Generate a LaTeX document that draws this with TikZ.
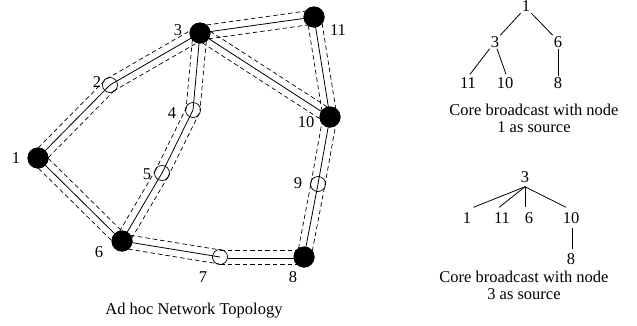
\documentclass[tikz,border=0pt]{standalone}
\usepackage{fontspec}
\setmainfont{Liberation Serif}
\usetikzlibrary{calc}
\newcommand\routepair[2]{%
  \draw[route] ($(#1.center)!7pt!90:(#2.center)$) -- ($(#2.center)!7pt!-90:(#1.center)$);
  \draw[route] ($(#1.center)!7pt!-90:(#2.center)$) -- ($(#2.center)!7pt!90:(#1.center)$);}
\begin{document}
\begin{tikzpicture}[x=1pt,y=-1pt,
  every node/.style={font=\fontsize{16.5}{17}\selectfont, inner sep=1pt},
  bignode/.style={circle,fill=black,minimum size=21pt,inner sep=0pt},
  smallnode/.style={circle,draw,minimum size=15pt,inner sep=0pt,line width=0.7pt},
  link/.style={line width=0.8pt},
  route/.style={line width=0.7pt,dash pattern=on 4.5pt off 3pt}]
\useasboundingbox (0,0) rectangle (637,325);

% network nodes
\node[smallnode] (n2) at (110,85) {};
\node[smallnode] (n4) at (193,110) {};
\node[smallnode] (n5) at (162,173) {};
\node[smallnode] (n7) at (220,257) {};
\node[smallnode] (n9) at (318,184) {};
\node[bignode] (n1) at (38,158) {};
\node[bignode] (n3) at (200,33) {};
\node[bignode] (n6) at (122,241) {};
\node[bignode] (n8) at (304,257) {};
\node[bignode] (n10) at (330,117) {};
\node[bignode] (n11) at (314,17) {};

% solid links
\draw[link] (n1.center) -- (n2.center) -- (n3.center);
\draw[link] (n3.center) -- (n4.center) -- (n5.center) -- (n6.center);
\draw[link] (n1.center) -- (n6.center);
\draw[link] (n6.center) -- (n7.center);
\draw[link,double,double distance=1.4pt,shorten <=7.5pt] (n7.center) -- (n8.center);
\draw[link] (n8.center) -- (n9.center) -- (n10.center);
\draw[link] (n3.center) -- (n10.center);
\draw[link] (n3.center) -- (n11.center);
\draw[link] (n11.center) -- (n10.center);

% dashed routes
\routepair{n1}{n2}
\routepair{n2}{n3}
\routepair{n3}{n4}
\routepair{n4}{n5}
\routepair{n5}{n6}
\routepair{n1}{n6}
\routepair{n6}{n7}
\routepair{n7}{n8}
\routepair{n8}{n9}
\routepair{n9}{n10}
\routepair{n3}{n10}
\routepair{n3}{n11}
\routepair{n11}{n10}

% redraw black nodes on top
\node[bignode] at (n1) {};
\node[bignode] at (n3) {};
\node[bignode] at (n6) {};
\node[bignode] at (n8) {};
\node[bignode] at (n10) {};
\node[bignode] at (n11) {};

% labels
\node (l1) at (16,158) {1};
\node (l2) at (97,82) {2};
\node (l3) at (178,30) {3};
\node (l4) at (172,113) {4};
\node (l5) at (147,174) {5};
\node (l6) at (99,252) {6};
\node (l7) at (203,277) {7};
\node (l8) at (293,277) {8};
\node (l9) at (298,183) {9};
\node (l10) at (306,122) {10};
\node (l11) at (338,30) {11};
\node (cap) at (194,311) {Ad hoc Network Topology};

% tree 1
\node (a1) at (526,6.5) {1};
\node (a3) at (495,42) {3};
\node (a6) at (558,42) {6};
\node (a11) at (468,83) {11};
\node (a10) at (505,83) {10};
\node (a8) at (558,83) {8};
\draw[link] (a1.south west) -- (a3.north east);
\draw[link] (a1.south east) -- (a6.north west);
\draw[link] (a3.south west) -- ($(a11.north)+(2,-2)$);
\draw[link] ($(a3.south)+(2,0)$) -- ($(a10.north)+(1,-2)$);
\draw[link] (a6.south) -- (a8.north);
\node[align=center] (c1) at (534,118) {Core broadcast with node\\1 as source};

% tree 2
\node (b3) at (525,177) {3};
\node (b1) at (467,218) {1};
\node (b11) at (502,218) {11};
\node (b6) at (529,218) {6};
\node (b10) at (571,218) {10};
\node (b8) at (571,259) {8};
\coordinate (apex) at ($(b3.south)+(0,3)$);
\draw[link] (apex) -- ($(b1.north east)+(1,-4)$);
\draw[link] (apex) -- ($(b11.north)+(-3,-4)$);
\draw[link] (apex) -- ($(b6.north)+(-4,-4)$);
\draw[link] (apex) -- ($(b10.north)+(-5,-4)$);
\draw[link,shorten <=3pt,shorten >=3pt] ($(b10.south)+(1,0)$) -- ($(b8.north)+(1,0)$);
\node[align=center] (c2) at (524,285.5) {Core broadcast with node\\3 as source};
\end{tikzpicture}
\end{document}
